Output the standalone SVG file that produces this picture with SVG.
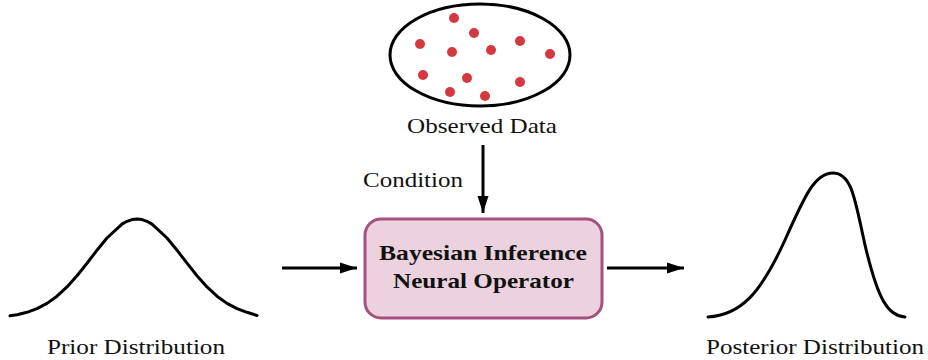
<svg xmlns="http://www.w3.org/2000/svg" width="928" height="360" viewBox="0 0 928 360">
<style>
  .lbl { font-family: "Liberation Serif", "DejaVu Serif", serif; font-size: 22px; fill: #111; }
  .bold { font-family: "Liberation Serif", "DejaVu Serif", serif; font-size: 22px; font-weight: bold; fill: #111; }
  .curve { fill: none; stroke: #000; stroke-width: 3; stroke-linejoin: round; stroke-linecap: round; }
  .conn { stroke: #000; stroke-width: 3; fill: none; }
  .dot { fill: #d4393f; }
</style>
<defs>
  <marker id="arr" markerWidth="17" markerHeight="12" refX="17" refY="6" orient="auto" markerUnits="userSpaceOnUse">
    <path d="M0,0.5 L17,6 L0,11.5 Z" fill="#000"/>
  </marker>
</defs>
<rect width="928" height="360" fill="#fff"/>

<g id="observed-data">
  <ellipse cx="480" cy="55" rx="90" ry="51" fill="#fff" stroke="#000" stroke-width="3"/>
  <circle class="dot" cx="454" cy="18" r="5"/>
  <circle class="dot" cx="474" cy="33" r="5"/>
  <circle class="dot" cx="420" cy="44" r="5"/>
  <circle class="dot" cx="452" cy="52" r="5"/>
  <circle class="dot" cx="491" cy="50" r="5"/>
  <circle class="dot" cx="520" cy="41" r="5"/>
  <circle class="dot" cx="550" cy="54" r="5"/>
  <circle class="dot" cx="423" cy="75" r="5"/>
  <circle class="dot" cx="467" cy="78" r="5"/>
  <circle class="dot" cx="520" cy="82" r="5"/>
  <circle class="dot" cx="450" cy="92" r="5"/>
  <circle class="dot" cx="485" cy="96" r="5"/>
  <text class="lbl" x="407" y="133" textLength="150" lengthAdjust="spacingAndGlyphs">Observed Data</text>
</g>

<g id="bino">
  <rect x="365" y="219" width="237" height="99" rx="16" ry="16" fill="#ecd2de" stroke="#a6507f" stroke-width="3"/>
  <text class="bold" x="379" y="260" textLength="208" lengthAdjust="spacingAndGlyphs">Bayesian Inference</text>
  <text class="bold" x="393" y="288" textLength="181" lengthAdjust="spacingAndGlyphs">Neural Operator</text>
</g>

<g id="prior">
  <path class="curve" d="M10,315.8 L17,314.7 L27,312.3 L37,308.7 L47,303.4 L57,296.2 L67,286.9 L77,275.7 L87,263.2 L97,250.2 L107,238 L122,224.1 L127,221.3 L132,219.6 L137,219 L142,219.6 L147,221.3 L152,224.1 L167,238 L177,250.2 L187,263.2 L197,275.7 L207,286.9 L217,296.2 L227,303.4 L237,308.7 L247,312.3 L257,315.5"/>
  <text class="lbl" x="47" y="354" textLength="178" lengthAdjust="spacingAndGlyphs">Prior Distribution</text>
</g>

<g id="posterior">
  <path class="curve" d="M708,317 C740,315 760,295 785,240 C805,195 815,173 833,173 C852,173 855,200 865,245 C878,300 888,316 905,317"/>
  <text class="lbl" x="706" y="354" textLength="218" lengthAdjust="spacingAndGlyphs">Posterior Distribution</text>
</g>

<g id="connectors">
  <line class="conn" x1="483" y1="145" x2="483" y2="213" marker-end="url(#arr)"/>
  <text class="lbl" x="363" y="187" textLength="100" lengthAdjust="spacingAndGlyphs">Condition</text>
  <line class="conn" x1="282" y1="268" x2="357" y2="268" marker-end="url(#arr)"/>
  <line class="conn" x1="607" y1="268" x2="684" y2="268" marker-end="url(#arr)"/>
</g>
</svg>
